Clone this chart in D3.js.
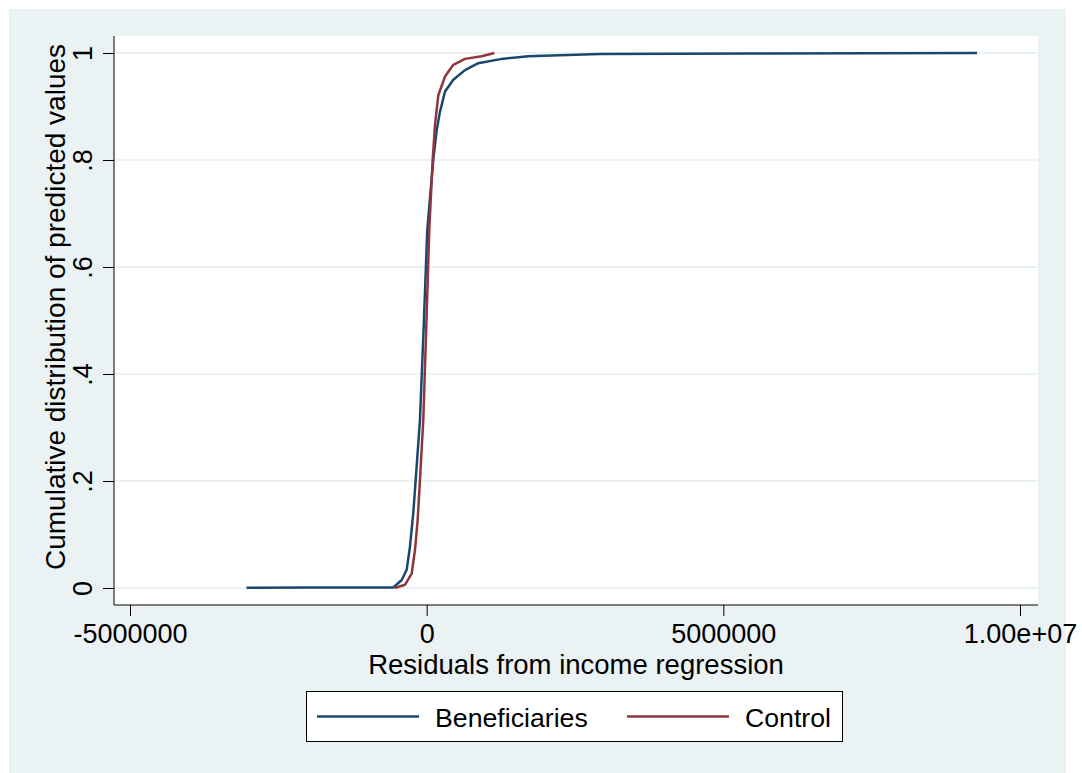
<!DOCTYPE html>
<html>
<head>
<meta charset="utf-8">
<script src="https://cdn.jsdelivr.net/npm/d3@7"></script>
<style>
    body { margin: 0; background: #ffffff; }
    text { font-family: "Liberation Sans", Arial, sans-serif; fill: #000000; }
</style>
</head>
<body>
<script>
'use strict';

const beneficiariesX = [-3035000, -2000000, -563000, -421000, -337000, -282000, -226000, -185000,
    -113000, -46000, 10000, 111000, 169000, 224000, 309000, 449000, 646000, 870000,
    1265000, 1713000, 2248000, 2920000, 5450000, 9275000];
const beneficiariesY = [0.0005, 0.001, 0.001, 0.015, 0.034, 0.077, 0.14, 0.202,
    0.314, 0.5, 0.669, 0.8, 0.856, 0.89, 0.928, 0.95, 0.968, 0.981,
    0.989, 0.994, 0.996, 0.998, 0.999, 1.0];

const controlX = [-535000, -366000, -253000, -197000, -152000, -113000, -57000, -3000,
    44000, 101000, 140000, 196000, 309000, 449000, 646000, 927000, 1140000];
const controlY = [0, 0.006, 0.027, 0.071, 0.127, 0.202, 0.314, 0.5,
    0.669, 0.8, 0.865, 0.921, 0.956, 0.978, 0.989, 0.994, 1.0];

const xTicks = [-5000000, 0, 5000000, 10000000];
const xTickLabels = ["-5000000", "0", "5000000", "1.00e+07"];
const yTicks = [0, 0.2, 0.4, 0.6, 0.8, 1];
const yTickLabels = ["0", ".2", ".4", ".6", ".8", "1"];
const seriesNames = ["Beneficiaries", "Control"];

(function() {

    const width = 1082,
        height = 773;

    // plot region
    const plot = { left: 114, top: 36, right: 1038, bottom: 605 };
    const colors = ["#1a476f", "#90353b"];
    const tickFont = "27px";
    const titleFont = "27.5px";
    const legendFont = "26.7px";

    const svg = d3.select("body")
        .append("svg")
        .attr("width", width)
        .attr("height", height);

    // outer graph region
    svg.append("rect")
        .attr("x", 9)
        .attr("y", 9)
        .attr("width", 1057)
        .attr("height", 764)
        .attr("fill", "#eaf2f3");

    svg.append("rect")
        .attr("x", plot.left)
        .attr("y", plot.top)
        .attr("width", plot.right - plot.left)
        .attr("height", plot.bottom - plot.top)
        .attr("fill", "#ffffff");

    // scales
    const xScale = d3.scaleLinear()
        .domain([-5000000, 10000000])
        .range([130, 1020]);

    const yScale = d3.scaleLinear()
        .domain([0, 1])
        .range([588, 53]);

    // horizontal grid lines
    svg.append("g")
        .selectAll("line")
        .data(yTicks)
        .enter()
        .append("line")
        .attr("x1", plot.left)
        .attr("x2", plot.right)
        .attr("y1", (d) => yScale(d))
        .attr("y2", (d) => yScale(d))
        .attr("stroke", "#eaf2f3")
        .attr("stroke-width", 2);

    // x axis
    const xAxis = d3.axisBottom(xScale)
        .tickValues(xTicks)
        .tickFormat((d, i) => xTickLabels[i])
        .tickSize(11)
        .tickPadding(8);
    const gx = svg.append("g")
        .attr("transform", "translate(0," + plot.bottom + ")")
        .call(xAxis);
    gx.select(".domain").remove();
    gx.selectAll("text")
        .style("font-size", tickFont)
        .attr("fill", "#000");
    gx.append("line")
        .attr("x1", plot.left)
        .attr("x2", plot.right)
        .attr("stroke", "#000");

    // y axis, labels turned on their side
    const yAxis = d3.axisLeft(yScale)
        .tickValues(yTicks)
        .tickFormat((d, i) => yTickLabels[i])
        .tickSize(11);
    const gy = svg.append("g")
        .attr("transform", "translate(" + plot.left + ",0)")
        .call(yAxis);
    gy.select(".domain").remove();
    gy.selectAll("text")
        .style("font-size", tickFont)
        .attr("fill", "#000")
        .attr("text-anchor", "middle")
        .attr("x", 0)
        .attr("y", -22)
        .attr("dy", null)
        .attr("transform", "rotate(-90)");
    gy.append("line")
        .attr("y1", plot.top)
        .attr("y2", plot.bottom)
        .attr("stroke", "#000");

    // the two cdf lines
    const series = [
        d3.zip(beneficiariesX, beneficiariesY),
        d3.zip(controlX, controlY)
    ];
    const line = d3.line()
        .x((d) => xScale(d[0]))
        .y((d) => yScale(d[1]));

    svg.append("g")
        .selectAll("path")
        .data(series)
        .enter()
        .append("path")
        .attr("d", line)
        .attr("fill", "none")
        .attr("stroke", (d, i) => colors[i])
        .attr("stroke-width", 2.5)
        .attr("stroke-linejoin", "round");

    // axis titles
    svg.append("text")
        .attr("x", (plot.left + plot.right) / 2)
        .attr("y", 674)
        .attr("text-anchor", "middle")
        .style("font-size", titleFont)
        .text("Residuals from income regression");

    svg.append("text")
        .attr("transform", "translate(65,307)rotate(-90)")
        .attr("text-anchor", "middle")
        .style("font-size", "28px")
        .text("Cumulative distribution of predicted values");

    // legend
    const legend = svg.append("g");
    legend.append("rect")
        .attr("x", 306.5)
        .attr("y", 691.5)
        .attr("width", 536)
        .attr("height", 50)
        .attr("fill", "#ffffff")
        .attr("stroke", "#000");

    const keyX = [317, 627];
    seriesNames.forEach((name, i) => {
        legend.append("line")
            .attr("x1", keyX[i])
            .attr("x2", keyX[i] + 102)
            .attr("y1", 716.5)
            .attr("y2", 716.5)
            .attr("stroke", colors[i])
            .attr("stroke-width", 2.5);
        legend.append("text")
            .attr("x", keyX[i] + 118)
            .attr("y", 726.5)
            .style("font-size", legendFont)
            .text(name);
    });

})();
</script>
</body>
</html>
